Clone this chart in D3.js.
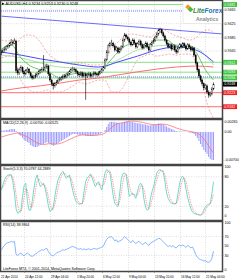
<!DOCTYPE html>
<html lang="en">
<head>
<meta charset="utf-8">
<title>AUDUSD H4</title>
<script src="https://cdn.jsdelivr.net/npm/d3@7"></script>
<style>
  body { margin: 0; background: #fff; }
  text { font-family: "Liberation Sans", Arial, sans-serif; font-size: 3.6px; fill: #000; }
  text.time { font-size: 3.1px; }
</style>
</head>
<body>
<script>

var W = 240, H = 280;

// ---- price data (H4 bars) ----
var firstOpen = 0.9338;
var closes = [0.9342,0.9348,0.9351,0.9357,0.9360,0.9366,0.9371,0.9368,0.9374,0.9287,
  0.9281,0.9290,0.9296,0.9284,0.9278,0.9287,0.9292,0.9281,0.9272,0.9266,
  0.9269,0.9275,0.9278,0.9284,0.9287,0.9292,0.9290,0.9298,0.9301,0.9278,
  0.9260,0.9249,0.9243,0.9249,0.9254,0.9260,0.9263,0.9266,0.9272,0.9269,
  0.9275,0.9278,0.9284,0.9290,0.9292,0.9290,0.9284,0.9278,0.9275,0.9281,
  0.9272,0.9278,0.9272,0.9275,0.9278,0.9272,0.9275,0.9281,0.9278,0.9275,
  0.9281,0.9284,0.9290,0.9296,0.9319,0.9342,0.9360,0.9366,0.9368,0.9360,
  0.9348,0.9354,0.9342,0.9351,0.9357,0.9377,0.9392,0.9386,0.9380,0.9371,
  0.9363,0.9377,0.9368,0.9357,0.9366,0.9374,0.9363,0.9354,0.9360,0.9368,
  0.9357,0.9348,0.9363,0.9371,0.9377,0.9386,0.9395,0.9404,0.9407,0.9398,
  0.9389,0.9377,0.9366,0.9357,0.9363,0.9351,0.9360,0.9348,0.9342,0.9354,
  0.9363,0.9357,0.9366,0.9360,0.9351,0.9363,0.9357,0.9348,0.9354,0.9333,
  0.9310,0.9290,0.9272,0.9260,0.9249,0.9237,0.9243,0.9225,0.9216,0.9219,
  0.9234,0.9248];
var highs = [0.9349,0.9353,0.9358,0.9362,0.9366,0.9371,0.9380,0.9376,0.9382,0.9378,
  0.9295,0.9297,0.9303,0.9300,0.9289,0.9292,0.9298,0.9295,0.9285,0.9276,
  0.9275,0.9280,0.9284,0.9289,0.9293,0.9298,0.9333,0.9305,0.9308,0.9304,
  0.9282,0.9264,0.9253,0.9255,0.9260,0.9265,0.9269,0.9272,0.9277,0.9278,
  0.9281,0.9284,0.9290,0.9296,0.9299,0.9297,0.9294,0.9288,0.9283,0.9286,
  0.9285,0.9283,0.9282,0.9281,0.9284,0.9283,0.9280,0.9286,0.9285,0.9282,
  0.9286,0.9290,0.9296,0.9302,0.9324,0.9348,0.9366,0.9372,0.9378,0.9372,
  0.9364,0.9360,0.9358,0.9356,0.9362,0.9382,0.9398,0.9396,0.9390,0.9384,
  0.9375,0.9382,0.9381,0.9372,0.9371,0.9379,0.9378,0.9367,0.9365,0.9373,
  0.9372,0.9361,0.9368,0.9376,0.9383,0.9391,0.9400,0.9410,0.9413,0.9411,
  0.9402,0.9393,0.9381,0.9370,0.9368,0.9367,0.9365,0.9364,0.9352,0.9359,
  0.9368,0.9367,0.9371,0.9370,0.9364,0.9368,0.9367,0.9361,0.9359,0.9357,
  0.9337,0.9314,0.9294,0.9276,0.9264,0.9253,0.9249,0.9247,0.9230,0.9226,
  0.9239,0.9253];
var lows = [0.9333,0.9339,0.9343,0.9347,0.9352,0.9355,0.9361,0.9362,0.9365,0.9280,
  0.9274,0.9276,0.9285,0.9279,0.9271,0.9274,0.9282,0.9276,0.9267,0.9261,
  0.9262,0.9265,0.9270,0.9274,0.9279,0.9282,0.9285,0.9286,0.9292,0.9272,
  0.9254,0.9243,0.9232,0.9238,0.9244,0.9249,0.9255,0.9258,0.9261,0.9264,
  0.9265,0.9270,0.9274,0.9280,0.9285,0.9284,0.9279,0.9272,0.9269,0.9271,
  0.9267,0.9268,0.9202,0.9266,0.9270,0.9267,0.9268,0.9271,0.9273,0.9270,
  0.9271,0.9277,0.9280,0.9286,0.9292,0.9315,0.9338,0.9355,0.9360,0.9355,
  0.9343,0.9344,0.9337,0.9338,0.9347,0.9353,0.9372,0.9380,0.9375,0.9366,
  0.9358,0.9360,0.9363,0.9352,0.9353,0.9362,0.9358,0.9349,0.9350,0.9356,
  0.9352,0.9343,0.9345,0.9359,0.9366,0.9372,0.9381,0.9390,0.9398,0.9393,
  0.9384,0.9372,0.9361,0.9352,0.9353,0.9346,0.9347,0.9343,0.9336,0.9338,
  0.9350,0.9352,0.9353,0.9355,0.9346,0.9348,0.9352,0.9343,0.9344,0.9328,
  0.9305,0.9284,0.9266,0.9254,0.9243,0.9231,0.9232,0.9219,0.9208,0.9211,
  0.9215,0.9230];

// ---- moving averages / bands, sampled by bar ----
var slowMaBars = [0, 12, 24, 36, 48, 60, 72, 84, 96, 108, 120, 131];
var slowMa = [0.9228,0.9237,0.9243,0.9251,0.9260,0.9266,0.9275,0.9284,0.9292,0.9298,0.9301,0.9298];
var midMaBars = [0, 12, 24, 36, 48, 60, 72, 84, 96, 108, 120, 131];
var midMa = [0.9342,0.9333,0.9322,0.9313,0.9304,0.9298,0.9313,0.9330,0.9348,0.9357,0.9348,0.9313];
var fastMaBars = [0,6,12,18,24,30,36,42,48,54,60,66,72,78,84,90,96,102,108,114,120,126,131];
var fastMa = [0.9351,0.9363,0.9325,0.9301,0.9290,0.9281,0.9266,0.9275,0.9281,0.9278,0.9278,0.9310,
  0.9342,0.9363,0.9366,0.9363,0.9377,0.9377,0.9360,0.9357,0.9342,0.9290,0.9260];
var emaBars = [0, 12, 24, 36, 48, 60, 72, 84, 96, 108, 120, 131];
var ema = [0.9333,0.9325,0.9310,0.9298,0.9295,0.9292,0.9319,0.9348,0.9360,0.9363,0.9354,0.9304];
var bandBars = [0,4,8,10,12,16,20,24,28,32,36,40,44,48,52,56,60,64,66,68,72,76,80,84,88,92,96,100,104,108,112,116,120,124,128,131];
var bandUp = [0.9377,0.9374,0.9377,0.9371,0.9383,0.9392,0.9389,0.9371,0.9342,0.9325,0.9313,0.9310,
  0.9307,0.9310,0.9307,0.9304,0.9304,0.9313,0.9333,0.9357,0.9371,0.9389,0.9395,0.9392,0.9389,0.9386,
  0.9401,0.9407,0.9398,0.9389,0.9383,0.9377,0.9383,0.9401,0.9407,0.9398];
var bandDn = [0.9325,0.9330,0.9333,0.9290,0.9260,0.9237,0.9225,0.9225,0.9231,0.9225,0.9225,0.9231,
  0.9243,0.9254,0.9249,0.9254,0.9260,0.9260,0.9243,0.9225,0.9225,0.9246,0.9284,0.9319,0.9330,0.9336,
  0.9330,0.9333,0.9336,0.9333,0.9336,0.9336,0.9313,0.9246,0.9178,0.9149];
var trendBars = [0, 136];
var trendPrices = [0.9447, 0.9395];

var resistLevels = [0.9481, 0.9312, 0.9283, 0.9266];
var supportLevels = [0.9223, 0.9182];
var dottedLevels = [0.9462, 0.9269];
var lastPrice = 0.9248;
var priceTicks = [0.9465, 0.9425, 0.9385, 0.9345];

// ---- MACD(12,26,9) ----
var macd = [0.00025,0.00038,0.00038,0.0005,0.0005,0.00063,0.00075,0.00075,0.00075,0.00025,
  -0.00025,-0.00075,-0.001,-0.0015,-0.002,-0.00225,-0.0025,-0.00275,-0.00325,-0.0035,
  -0.00375,-0.00375,-0.00375,-0.0035,-0.00325,-0.003,-0.003,-0.00275,-0.0025,-0.00275,
  -0.003,-0.00325,-0.0035,-0.00325,-0.003,-0.00275,-0.0025,-0.00225,-0.002,-0.00175,
  -0.0015,-0.00125,-0.001,-0.00075,-0.0005,-0.0005,-0.0005,-0.00063,-0.00075,-0.00075,
  -0.00075,-0.00075,-0.001,-0.001,-0.001,-0.001,-0.001,-0.00088,-0.00075,-0.00075,
  -0.00063,-0.0005,-0.00025,0.00002,0.0005,0.00125,0.002,0.0025,0.00255,0.00255,
  0.00245,0.0024,0.0023,0.0022,0.0022,0.0024,0.00255,0.00265,0.00265,0.00258,
  0.0025,0.0025,0.0024,0.0023,0.0022,0.0022,0.0021,0.002,0.0019,0.0019,
  0.00175,0.00163,0.00163,0.00175,0.00175,0.00188,0.002,0.00213,0.00213,0.002,
  0.00188,0.00163,0.00138,0.00113,0.001,0.00075,0.00063,0.00038,0.00025,0.00013,
  0.00013,0.00013,0.00008,0.00008,0.00001,-0.00001,-0.00013,-0.00025,-0.00025,-0.0005,
  -0.001,-0.0015,-0.00225,-0.003,-0.00375,-0.0045,-0.005,-0.0055,-0.00625,-0.00675,
  -0.007,-0.007];
var macdSignal = [-0.00125,-0.00113,-0.001,-0.00088,-0.00075,-0.00065,-0.00055,-0.00045,-0.00038,-0.0003,
  -0.00025,-0.00038,-0.0005,-0.00068,-0.00088,-0.00105,-0.00125,-0.0015,-0.00175,-0.002,
  -0.00225,-0.0025,-0.00275,-0.00288,-0.003,-0.00308,-0.00313,-0.00308,-0.003,-0.00295,
  -0.00293,-0.00295,-0.003,-0.003,-0.003,-0.00295,-0.00288,-0.00275,-0.00263,-0.00245,
  -0.00225,-0.00205,-0.00188,-0.0017,-0.0015,-0.0013,-0.00113,-0.001,-0.00088,-0.0008,
  -0.00075,-0.00075,-0.00075,-0.0008,-0.00083,-0.00085,-0.00088,-0.00088,-0.00088,-0.0008,
  -0.00075,-0.0007,-0.00063,-0.00045,-0.00025,0.00005,0.00038,0.00075,0.00113,0.00145,
  0.00175,0.00195,0.00213,0.0022,0.00225,0.0023,0.00238,0.00248,0.00258,0.00265,
  0.0027,0.0027,0.0027,0.00268,0.00263,0.00255,0.0025,0.0024,0.00233,0.00223,
  0.00213,0.00203,0.00195,0.0019,0.00185,0.00185,0.00185,0.00188,0.00193,0.00195,
  0.00195,0.0019,0.00185,0.00175,0.00163,0.00148,0.00133,0.00115,0.001,0.00088,
  0.00075,0.00063,0.0005,0.0004,0.00033,0.00025,0.00018,0.0001,0.00005,-0.00005,
  -0.00015,-0.0003,-0.0005,-0.00088,-0.00125,-0.00175,-0.00225,-0.00288,-0.0035,-0.00413,
  -0.00475,-0.00525];
var macdTicks = [0.00265, 0, -0.007];

// ---- Stochastic(5,3,3) ----
var stochMain = [53,65,75,81,83,84,84,70,47,15,5,8,12,40,62,67,30,12,12,30,
  55,75,84,70,60,64,67,55,40,20,9,12,19,40,60,74,82,88,91,84,
  77,80,84,68,52,40,30,26,24,25,26,50,70,78,81,86,78,68,60,66,
  70,60,53,72,88,95,92,88,65,42,26,22,19,45,75,86,88,84,62,40,
  44,47,42,36,50,62,67,60,35,18,12,14,35,50,60,75,88,93,95,92,
  88,70,47,36,30,26,25,25,26,45,65,78,81,74,55,38,26,15,8,5,
  4,3,2,2,5,12,19,22,24,26,45,70.0787];
var stochSignal = [58,60,64,74,80,83,84,79,67,44,22,9,8,20,38,56,53,36,18,18,
  32,53,71,76,71,65,64,62,54,38,23,14,13,24,40,58,72,81,87,88,
  84,80,80,77,68,53,41,32,27,25,25,34,49,66,76,82,82,77,69,65,
  65,65,61,62,71,85,92,92,82,65,44,30,22,29,46,69,83,86,78,62,
  49,44,44,42,43,49,60,63,54,38,22,15,20,33,48,62,74,85,92,93,
  92,83,68,51,38,31,27,25,25,32,45,63,75,78,70,56,40,26,16,9,
  6,4,3,2,3,6,12,18,22,24,32,44.2889];
var stochTicks = [100, 80, 20, 0];

// ---- RSI(14) ----
var rsi = [42,48,52,56,57,58,60,58,60,32,30,33,35,31,29,33,35,32,29,28,
  30,33,35,38,40,42,41,44,45,38,33,30,29,32,35,37,38,40,42,41,
  43,44,46,48,49,48,46,44,43,45,42,44,42,43,44,42,43,45,44,43,
  45,46,48,50,58,64,68,69,70,66,61,63,58,61,62,66,70,67,64,60,
  57,62,59,55,58,60,56,53,55,58,54,51,56,58,60,62,64,66,66,62,
  59,55,52,49,51,48,51,47,46,50,52,50,52,50,47,51,49,46,48,41,
  32,26,23,21,20,18,19,16,15,17,24,38.9364];
var rsiTicks = [100, 70, 50, 30, 0];

// ---- time axis ----
var timeBars = [14, 30, 46, 62, 78, 94, 110, 126];
var timeLabels = ["24 Apr 12:00", "29 Apr 04:00", "1 May 20:00", "6 May 12:00",
  "9 May 04:00", "13 May 20:00", "16 May 12:00", "21 May 04:00"];
var firstDate = "21 Apr 2014";

var opens = closes.map(function (c, i) { return i === 0 ? firstOpen : closes[i - 1]; });

// ---- layout ----
var plotL = 1, plotR = 222;
var main = { top: 1, bot: 118 };
var pMacd = { top: 120, bot: 164 };
var pSto = { top: 166, bot: 220 };
var pRsi = { top: 222, bot: 271 };

var svg = d3.select("body").append("svg")
  .attr("width", W).attr("height", H)
  .style("display", "block");

svg.append("rect").attr("width", W).attr("height", H).attr("fill", "#fff");

var x = d3.scaleLinear().domain([0, closes.length - 1]).range([1.5, 213.5]);
var yP = d3.scaleLinear().domain([0.9465, 0.9345]).range([10, 51]);
var yM = d3.scaleLinear().domain([0, 0.00265]).range([132, 121.4]);
var yS = d3.scaleLinear().domain([0, 100]).range([216, 167]);
var yR = d3.scaleLinear().domain([0, 100]).range([269.5, 222.5]);

function clip(id, p) {
  svg.append("clipPath").attr("id", id).append("rect")
    .attr("x", plotL).attr("y", p.top).attr("width", plotR - plotL).attr("height", p.bot - p.top);
  return svg.append("g").attr("clip-path", "url(#" + id + ")");
}

var gMain = clip("cMain", main);
var gMacd = clip("cMacd", pMacd);
var gSto = clip("cSto", pSto);
var gRsi = clip("cRsi", pRsi);

// vertical grid
[[gMain, main], [gMacd, pMacd], [gSto, pSto], [gRsi, pRsi]].forEach(function (pp) {
  pp[0].selectAll(null).data(timeBars).enter().append("line")
    .attr("x1", function (d) { return Math.round(x(d)) + 0.5; })
    .attr("x2", function (d) { return Math.round(x(d)) + 0.5; })
    .attr("y1", pp[1].top).attr("y2", pp[1].bot)
    .attr("stroke", "#c8c8c8").attr("stroke-width", 0.6).attr("stroke-dasharray", "1,1.5");
});

// horizontal price grid
gMain.selectAll(null).data(priceTicks).enter().append("line")
  .attr("x1", plotL).attr("x2", plotR)
  .attr("y1", function (d) { return yP(d); }).attr("y2", function (d) { return yP(d); })
  .attr("stroke", "#c8c8c8").attr("stroke-width", 0.6).attr("stroke-dasharray", "1,1.5");

// levels
gMain.selectAll(null).data(resistLevels).enter().append("line")
  .attr("x1", plotL).attr("x2", plotR)
  .attr("y1", function (d) { return yP(d); }).attr("y2", function (d) { return yP(d); })
  .attr("stroke", "#86e086").attr("stroke-width", 1);
gMain.selectAll(null).data(supportLevels).enter().append("line")
  .attr("x1", plotL).attr("x2", plotR)
  .attr("y1", function (d) { return yP(d); }).attr("y2", function (d) { return yP(d); })
  .attr("stroke", "#ff8c8c").attr("stroke-width", 1.3);
gMain.selectAll(null).data(dottedLevels).enter().append("line")
  .attr("x1", plotL).attr("x2", plotR)
  .attr("y1", function (d) { return yP(d); }).attr("y2", function (d) { return yP(d); })
  .attr("stroke", "#5a5aff").attr("stroke-width", 0.8).attr("stroke-dasharray", "1,1");

function sampled(bars, vals) {
  return bars.map(function (b, i) { return [b, vals[i]]; });
}
var curve = d3.line().curve(d3.curveMonotoneX)
  .x(function (d) { return x(d[0]); }).y(function (d) { return yP(d[1]); });

gMain.append("path").attr("d", d3.line().x(function (d) { return x(d[0]); }).y(function (d) { return yP(d[1]); })(sampled(trendBars, trendPrices)))
  .attr("fill", "none").attr("stroke", "#6b6bff").attr("stroke-width", 1);
gMain.append("path").attr("d", curve(sampled(slowMaBars, slowMa)))
  .attr("fill", "none").attr("stroke", "#ff7070").attr("stroke-width", 1);
gMain.append("path").attr("d", curve(sampled(bandBars, bandUp)))
  .attr("fill", "none").attr("stroke", "#f08a8a").attr("stroke-width", 0.7).attr("stroke-dasharray", "2,1.5");
gMain.append("path").attr("d", curve(sampled(bandBars, bandDn)))
  .attr("fill", "none").attr("stroke", "#f08a8a").attr("stroke-width", 0.7).attr("stroke-dasharray", "2,1.5");
gMain.append("path").attr("d", curve(sampled(emaBars, ema)))
  .attr("fill", "none").attr("stroke", "#9ad89a").attr("stroke-width", 0.8);
gMain.append("path").attr("d", curve(sampled(midMaBars, midMa)))
  .attr("fill", "none").attr("stroke", "#4a4aff").attr("stroke-width", 1);
gMain.append("path").attr("d", curve(sampled(fastMaBars, fastMa)))
  .attr("fill", "none").attr("stroke", "#4cb84c").attr("stroke-width", 0.8);

// candles
var bars = gMain.selectAll("g.bar").data(closes).enter().append("g");
bars.append("line")
  .attr("x1", function (d, i) { return x(i); }).attr("x2", function (d, i) { return x(i); })
  .attr("y1", function (d, i) { return yP(highs[i]); }).attr("y2", function (d, i) { return yP(lows[i]); })
  .attr("stroke", "#000").attr("stroke-width", 0.6);
bars.append("rect")
  .attr("x", function (d, i) { return x(i) - 0.6; })
  .attr("width", 1.2)
  .attr("y", function (d, i) { return yP(Math.max(opens[i], d)); })
  .attr("height", function (d, i) { return Math.max(0.4, Math.abs(yP(opens[i]) - yP(d))); })
  .attr("fill", function (d, i) { return d >= opens[i] ? "#fff" : "#000"; })
  .attr("stroke", "#000").attr("stroke-width", 0.3);

// MACD
gMacd.selectAll(null).data(macd).enter().append("line")
  .attr("x1", function (d, i) { return x(i); }).attr("x2", function (d, i) { return x(i); })
  .attr("y1", yM(0)).attr("y2", function (d) { return yM(d); })
  .attr("stroke", "#8f8fff").attr("stroke-width", 0.9);
gMacd.append("path").datum(macdSignal)
  .attr("d", d3.line().x(function (d, i) { return x(i); }).y(function (d) { return yM(d); }))
  .attr("fill", "none").attr("stroke", "#ff6f6f").attr("stroke-width", 0.8);

// Stochastic
[80, 20].forEach(function (v) {
  gSto.append("line").attr("x1", plotL).attr("x2", plotR).attr("y1", yS(v)).attr("y2", yS(v))
    .attr("stroke", "#c8c8c8").attr("stroke-width", 0.6).attr("stroke-dasharray", "1,1.5");
});
gSto.append("path").datum(stochMain)
  .attr("d", d3.line().x(function (d, i) { return x(i); }).y(function (d) { return yS(d); }))
  .attr("fill", "none").attr("stroke", "#5fd6c4").attr("stroke-width", 0.9);
gSto.append("path").datum(stochSignal)
  .attr("d", d3.line().x(function (d, i) { return x(i); }).y(function (d) { return yS(d); }))
  .attr("fill", "none").attr("stroke", "#ff5c5c").attr("stroke-width", 0.8).attr("stroke-dasharray", "0.8,1");

// RSI
[70, 30].forEach(function (v) {
  gRsi.append("line").attr("x1", plotL).attr("x2", plotR).attr("y1", yR(v)).attr("y2", yR(v))
    .attr("stroke", "#c8c8c8").attr("stroke-width", 0.6).attr("stroke-dasharray", "1,1.5");
});
gRsi.append("path").datum(rsi)
  .attr("d", d3.line().x(function (d, i) { return x(i); }).y(function (d) { return yR(d); }))
  .attr("fill", "none").attr("stroke", "#7aaeff").attr("stroke-width", 0.9);

// frames
[main, pMacd, pSto, pRsi].forEach(function (p) {
  svg.append("rect").attr("x", plotL - 0.5).attr("y", p.top - 0.5)
    .attr("width", plotR - plotL + 1).attr("height", p.bot - p.top + 1)
    .attr("fill", "none").attr("stroke", "#444").attr("stroke-width", 1.5);
});

// right axis labels
function axisLabel(yy, txt) {
  svg.append("line").attr("x1", plotR).attr("x2", plotR + 1.5).attr("y1", yy).attr("y2", yy)
    .attr("stroke", "#666").attr("stroke-width", 0.5);
  svg.append("text").attr("x", plotR + 2.5).attr("y", yy + 1.3).text(txt);
}
priceTicks.forEach(function (v) { axisLabel(yP(v), v.toFixed(4)); });
macdTicks.forEach(function (v) { axisLabel(yM(v), v === 0 ? "0.00" : v.toFixed(5)); });
stochTicks.forEach(function (v) { axisLabel(yS(v), v); });
rsiTicks.forEach(function (v) { axisLabel(yR(v), v); });

function boxLabel(v, bg) {
  var yy = yP(v);
  svg.append("rect").attr("x", plotR + 1).attr("y", yy - 2.4).attr("width", 14).attr("height", 4.8).attr("fill", bg);
  svg.append("text").attr("x", plotR + 2.2).attr("y", yy + 1.3).style("fill", "#fff").text(v.toFixed(4));
}
resistLevels.forEach(function (v) { boxLabel(v, "#3cc43c"); });
supportLevels.forEach(function (v) { boxLabel(v, "#f02020"); });
boxLabel(lastPrice, "#000");

// time labels
svg.append("text").attr("class", "time").attr("x", 1).attr("y", 277.5).text(firstDate);
timeBars.forEach(function (b, i) {
  var xx = Math.round(x(b)) + 0.5;
  svg.append("line").attr("x1", xx).attr("x2", xx).attr("y1", pRsi.bot).attr("y2", pRsi.bot + 2)
    .attr("stroke", "#666").attr("stroke-width", 0.5);
  svg.append("text").attr("class", "time").attr("x", xx + 0.5).attr("y", 277.5).text(timeLabels[i]);
});

// titles
var n = closes.length - 1;
svg.append("path").attr("d", "M2,2.5 L4.5,3.8 L2,5.1 Z").attr("fill", "#000");
svg.append("text").attr("x", 5.5).attr("y", 5.2).style("font-size", "3.8px")
  .text("AUDUSD,H4  " + opens[n].toFixed(4) + " " + highs[n].toFixed(4) + " " + lows[n].toFixed(4) + " " + closes[n].toFixed(4));
svg.append("text").attr("x", 3).attr("y", pMacd.top + 3.8)
  .text("MACD(12,26,9) " + macd[n].toFixed(5) + " " + macdSignal[n].toFixed(5));
svg.append("text").attr("x", 3).attr("y", pSto.top + 3.8)
  .text("Stoch(5,3,3) " + stochMain[n].toFixed(4) + " " + stochSignal[n].toFixed(4));
svg.append("text").attr("x", 3).attr("y", pRsi.top + 3.8)
  .text("RSI(14) " + rsi[n].toFixed(4));
svg.append("text").attr("x", 3).attr("y", pRsi.bot - 1.5)
  .text("LiteForex MT4, \u00a9 2001-2014, MetaQuotes Software Corp.");

// logo
var logo = svg.append("g");
logo.append("rect").attr("x", 183).attr("y", 1.5).attr("width", 38.5).attr("height", 22)
  .attr("fill", "#fff").attr("stroke", "#d8d8d8").attr("stroke-width", 0.5);
logo.append("rect").attr("x", 186).attr("y", 5).attr("width", 4).attr("height", 4)
  .attr("fill", "#f29a1e").attr("transform", "rotate(45,188,7)");
logo.append("rect").attr("x", 188.5).attr("y", 7.5).attr("width", 4).attr("height", 4)
  .attr("fill", "#4cb848").attr("transform", "rotate(45,190.5,9.5)");
logo.append("text").attr("x", 193).attr("y", 13).style("font-size", "6.5px")
  .style("font-style", "italic").style("font-weight", "bold")
  .html('<tspan fill="#2d8a3e">Lite</tspan><tspan fill="#1f6fb5">Forex</tspan>');
logo.append("text").attr("x", 196).attr("y", 20.5).style("font-size", "5px")
  .style("font-weight", "bold").style("fill", "#8a8a8a").text("Analytics");

</script>
</body>
</html>
